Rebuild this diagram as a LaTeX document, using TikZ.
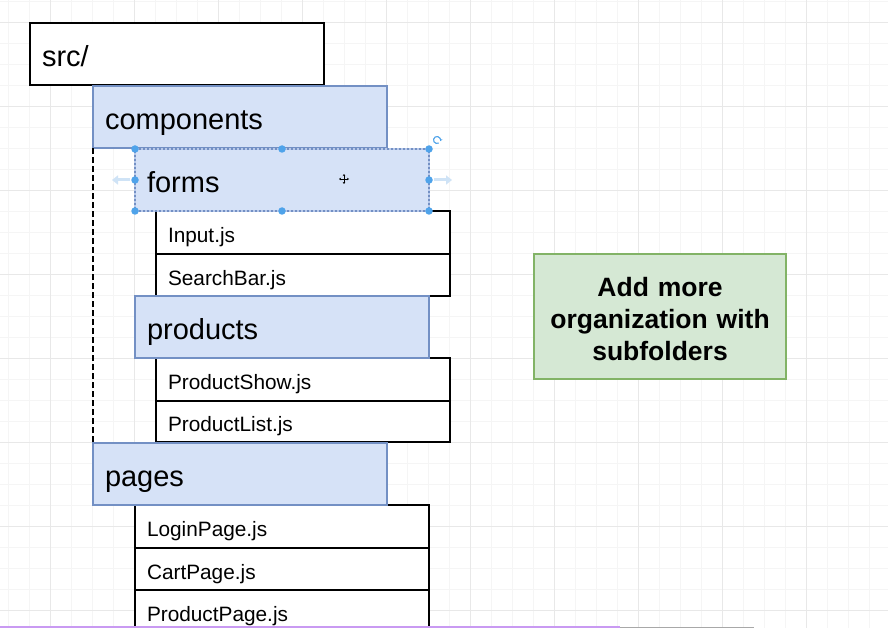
\documentclass[tikz,border=0pt]{standalone}
\usepackage{fontspec}
\setmainfont{Liberation Sans}
\usetikzlibrary{arrows.meta}
\definecolor{bluefill}{HTML}{D6E2F7}
\definecolor{bluedraw}{HTML}{7390C4}
\definecolor{greenfill}{HTML}{D5E8D4}
\definecolor{greendraw}{HTML}{82B366}
\definecolor{gridminor}{HTML}{F5F5F5}
\definecolor{gridmajor}{HTML}{E8E8E8}
\definecolor{handlecol}{HTML}{4FA3EA}
\definecolor{hintcol}{HTML}{CFE3F6}
\definecolor{selcol}{HTML}{B8C9EA}
\definecolor{barpurple}{HTML}{C99AF2}
\definecolor{bargray}{HTML}{A8A8A8}
\begin{document}
\begin{tikzpicture}[x=1pt,y=-1pt,
  box/.style={anchor=north west, minimum width=294pt, text width=270pt, inner xsep=12pt, inner ysep=0pt, outer sep=0pt, align=left, line width=1.8pt},
  bigtext/.style={minimum height=62pt, font=\fontsize{29}{31}\selectfont, text height=25pt, text depth=0pt},
  folder/.style={box, bigtext, fill=bluefill, draw=bluedraw},
  rootbox/.style={box, bigtext, fill=white, draw=black},
  filebox/.style={box, fill=white, draw=black, font=\fontsize{20.8}{22}\selectfont, text height=20.5pt, text depth=0pt},
  note/.style={fill=greenfill, draw=greendraw, line width=1.8pt, minimum width=252pt, minimum height=125pt, inner sep=0pt},
  notetext/.style={text width=240pt, align=center, inner sep=0pt, font=\bfseries\fontsize{26.5}{32}\selectfont},
  handle/.style={fill=handlecol, circle, inner sep=0pt, minimum size=7.5pt},
  hint/.style={draw=hintcol, line width=3pt, -{Triangle[length=6pt,width=9pt]}}
]
\useasboundingbox (0,0) rectangle (888,628);
\clip (0,0) rectangle (888,628);
\fill[white] (0,0) rectangle (888,628);
% grid
\foreach \x in {8,29,...,888} \draw[gridminor, line width=0.8pt] (\x,0) -- (\x,628);
\foreach \y in {1,22,...,628} \draw[gridminor, line width=0.8pt] (0,\y) -- (888,\y);
\foreach \x in {50,134,...,888} \draw[gridmajor, line width=0.9pt] (\x,0) -- (\x,628);
\foreach \y in {22,106,...,628} \draw[gridmajor, line width=0.9pt] (0,\y) -- (888,\y);

% tree
\node[rootbox] (src) at (30,23) {src/};
\node[folder] (components) at (93,86) {components};
\node[filebox, minimum height=43pt] (input) at (156,211) {Input.js};
\node[filebox, minimum height=42pt] (search) at (156,254) {SearchBar.js};
\node[folder] (forms) at (135,149) {forms};
\node[filebox, minimum height=43pt] (pshow) at (156,358) {ProductShow.js};
\node[filebox, minimum height=41pt] (plist) at (156,401) {ProductList.js};
\node[folder] (products) at (135,296) {products};
\node[filebox, minimum height=43pt] (login) at (135,505) {LoginPage.js};
\node[filebox, minimum height=42pt] (cart) at (135,548) {CartPage.js};
\node[filebox, minimum height=43pt] (ppage) at (135,590) {ProductPage.js};
\node[folder] (pages) at (93,443) {pages};
\draw[black, line width=1.8pt, dash pattern=on 6pt off 3pt] (components.south west) -- (pages.north west);

% selection decoration on forms
\draw[selcol, line width=1.2pt, dash pattern=on 2pt off 2pt] (forms.north west) rectangle (forms.south east);
\foreach \a in {north west,north,north east,west,east,south west,south,south east}
  \node[handle] at (forms.\a) {};
\draw[hint] ([xshift=-5pt]forms.west) -- ++(-18,0);
\draw[hint] ([xshift=5pt]forms.east) -- ++(18,0);
\coordinate (rot) at (437,140);
\draw[handlecol, line width=1.1pt, -{Stealth[length=2.5pt,width=3pt]}] (rot) ++(60:3.5) arc[start angle=60, end angle=380, radius=3.5];
\draw[black, line width=0.8pt, {Stealth[length=2pt,width=2.5pt]}-{Stealth[length=2pt,width=2.5pt]}] (339,179) -- (349,179);
\draw[black, line width=0.8pt, {Stealth[length=2pt,width=2.5pt]}-{Stealth[length=2pt,width=2.5pt]}] (344,174) -- (344,184);

% note
\node[note] (note) at (660,316.5) {};
\node[notetext] (notetext) at ([yshift=-2.5pt]note.center) {Add more\\organization with\\subfolders};

% bottom bar
\fill[barpurple] (0,626.3) rectangle (620,628);
\fill[bargray] (620,626.5) rectangle (754,628);
\end{tikzpicture}
\end{document}
